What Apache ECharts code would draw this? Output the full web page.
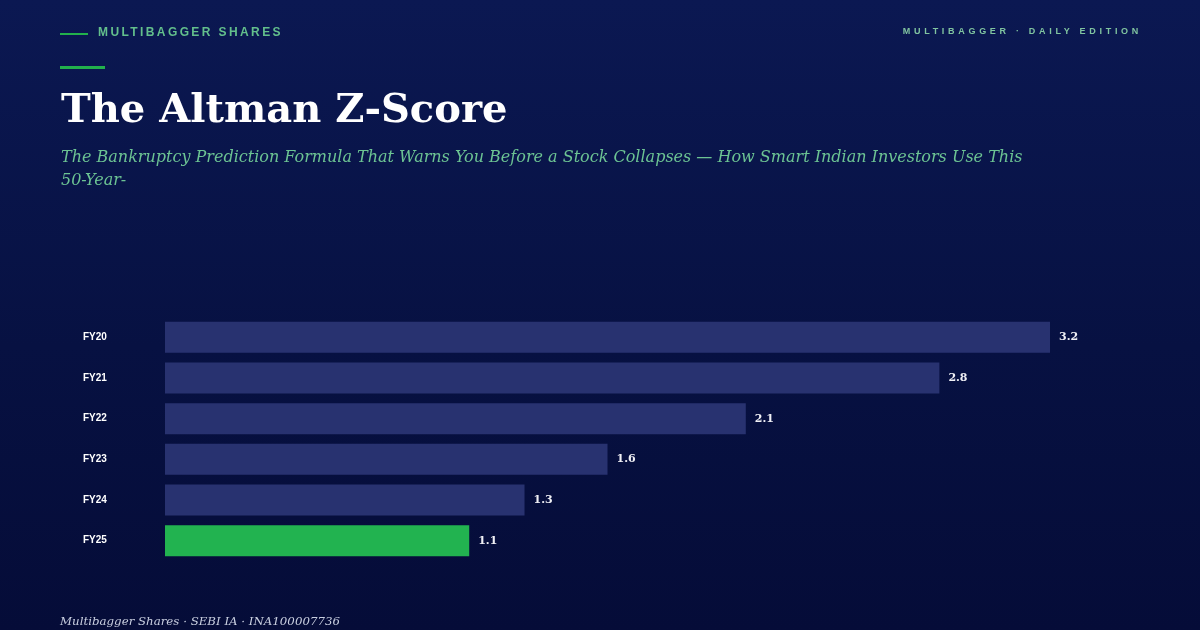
<!DOCTYPE html>
<html><head><meta charset="utf-8">
<script src="https://cdn.jsdelivr.net/npm/echarts@6/dist/echarts.min.js"></script>
<style>
html,body{margin:0;padding:0;width:1200px;height:630px;overflow:hidden;background:linear-gradient(180deg,#0b1852 0%,#071142 55%,#050c38 100%);}
#chart{position:absolute;left:0;top:0;width:1200px;height:630px;}
.hdr{position:absolute;font-family:"Liberation Sans",Arial,sans-serif;font-weight:bold;white-space:nowrap;}
</style></head>
<body>
<div id="chart"></div>
<div class="hdr" style="left:98px;top:25px;font-size:12px;letter-spacing:2.4px;color:#63bf8c;">MULTIBAGGER SHARES</div>
<div class="hdr" style="right:58px;top:26px;font-size:9px;letter-spacing:3.7px;color:#80c4a0;">MULTIBAGGER · DAILY EDITION</div>
<script>
const categories = ['FY20','FY21','FY22','FY23','FY24','FY25'];
const zScores = [3.2, 2.8, 2.1, 1.6, 1.3, 1.1];
const highlightIndex = 5;

const titleText = 'The Altman Z-Score';
const subtitleText = 'The Bankruptcy Prediction Formula That Warns You Before a Stock Collapses — How Smart Indian Investors Use This\n50-Year-';
const footerText = 'Multibagger Shares · SEBI IA · INA100007736';

const chart = echarts.init(document.getElementById('chart'), null, {renderer:'canvas'});
chart.setOption({
  backgroundColor: 'transparent',
  animation: false,
  title: {
    text: titleText,
    subtext: subtitleText,
    left: 56, top: 87,
    itemGap: 14,
    textStyle: {fontFamily:'DejaVu Serif', fontWeight:'bold', fontSize:40, color:'#ffffff'},
    subtextStyle: {fontFamily:'DejaVu Serif', fontStyle:'italic', fontSize:16, color:'#6cc393', lineHeight:23}
  },
  graphic: [
    {type:'rect', shape:{x:60,y:33,width:28,height:2}, style:{fill:'#22b14c'}},
    {type:'rect', shape:{x:60,y:66,width:45,height:3}, style:{fill:'#22b14c'}},
    {type:'text', left:60, top:616, style:{text:footerText, font:'italic 11.8px "DejaVu Serif"', fill:'#c9cfe0'}}
  ],
  grid: {left:165, right:150, top:317, bottom:69, containLabel:false},
  xAxis: {type:'value', min:0, max:3.2, show:false},
  yAxis: {
    type:'category', data:categories, inverse:true,
    axisLine:{show:false}, axisTick:{show:false}, splitLine:{show:false},
    axisLabel:{align:'left', margin:82, color:'#ffffff', fontFamily:'Liberation Sans', fontWeight:'bold', fontSize:10, verticalAlign:'middle', padding:[0,0,5,0]}
  },
  series: [{
    type:'bar', barWidth:31,
    data: zScores.map((v,i)=>({value:v, itemStyle:{color: i===highlightIndex ? '#22b350' : '#283270'}})),
    label:{show:true, position:'right', distance:9, color:'#f0f0f5', fontFamily:'DejaVu Serif', fontWeight:'bold', fontSize:11, formatter:p=>p.value.toFixed(1)}
  }]
});
</script>
</body></html>
